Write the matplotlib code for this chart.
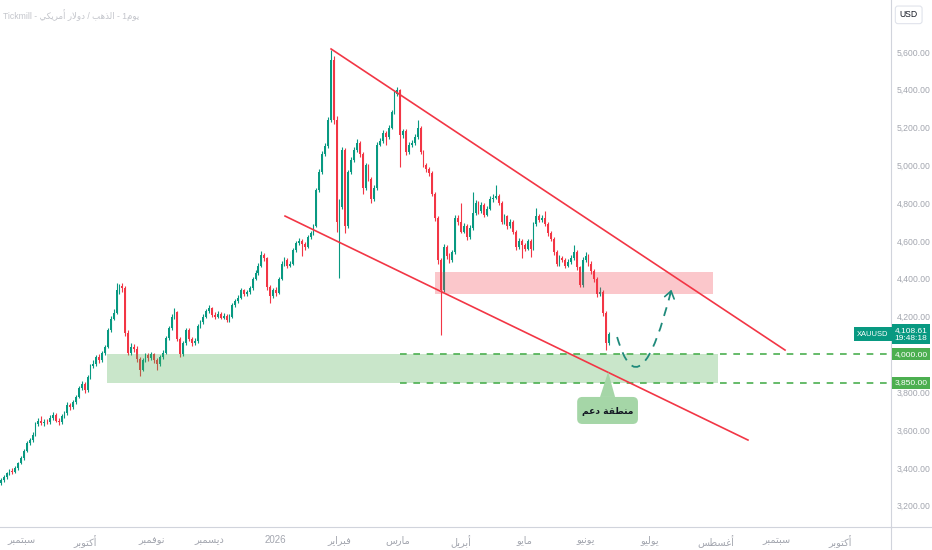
import numpy as np
import pandas as pd
import matplotlib
matplotlib.use('Agg')
import matplotlib.pyplot as plt
from matplotlib.path import Path
from matplotlib.patches import PathPatch, FancyArrowPatch, Rectangle, FancyBboxPatch, Polygon
from matplotlib.lines import Line2D

plt.rcParams['font.family'] = ['Liberation Sans', 'DejaVu Sans']

# --- daily XAUUSD candles, first bar 2025-08-21 ---
start_day = '2025-08-21'
opens = [
    3320, 3335, 3350, 3372, 3385, 3380, 3398, 3425, 3450, 3490,
    3530, 3545, 3575, 3630, 3650, 3635, 3645, 3640, 3665, 3680,
    3650, 3640, 3675, 3690, 3735, 3720, 3750, 3775, 3820, 3845,
    3810, 3880, 3940, 3950, 3985, 3970, 4005, 4040, 4130, 4190,
    4220, 4340, 4360, 4350, 4115, 4010, 4040, 4030, 3975, 3920,
    3970, 3995, 3980, 4000, 3970, 3950, 3985, 4010, 4085, 4140,
    4200, 4225, 4080, 4000, 4060, 4130, 4080, 4060, 4070, 4150,
    4170, 4200, 4230, 4245, 4210, 4200, 4215, 4195, 4205, 4180,
    4200, 4260, 4280, 4300, 4340, 4320, 4330, 4350, 4400, 4430,
    4470, 4525, 4510, 4355, 4310, 4340, 4325, 4400, 4480, 4500,
    4470, 4480, 4550, 4590, 4600, 4585, 4570, 4620, 4640, 4680,
    4870, 4965, 5060, 5100, 5240, 5560, 5240, 4700, 4780, 5080,
    4680, 4965, 5030, 5080, 5120, 5060, 4880, 5000, 4930, 4820,
    4880, 5110, 5130, 5170, 5150, 5200, 5280, 5380, 5400, 5160,
    5180, 5070, 5110, 5120, 5150, 5200, 5070, 5000, 4980, 4960,
    4850, 4720, 4500, 4340, 4570, 4520, 4500, 4540, 4720, 4700,
    4650, 4680, 4620, 4670, 4750, 4800, 4760, 4790, 4740, 4770,
    4820, 4830, 4840, 4800, 4700, 4730, 4680, 4700, 4650, 4570,
    4600, 4580, 4560, 4600, 4560, 4690, 4730, 4710, 4720, 4690,
    4640, 4610, 4540, 4480, 4510, 4500, 4470, 4490, 4510, 4540,
    4460, 4365, 4500, 4520, 4480, 4440, 4400, 4320, 4330, 4220,
    4060,
]
closes = [
    3335, 3350, 3372, 3385, 3380, 3398, 3425, 3450, 3490, 3530,
    3545, 3575, 3630, 3650, 3635, 3645, 3640, 3665, 3680, 3650,
    3640, 3675, 3690, 3735, 3720, 3750, 3775, 3820, 3845, 3810,
    3880, 3940, 3950, 3985, 3970, 4005, 4040, 4130, 4190, 4220,
    4340, 4360, 4350, 4115, 4010, 4040, 4030, 3975, 3920, 3970,
    3995, 3980, 4000, 3970, 3950, 3985, 4010, 4085, 4140, 4200,
    4225, 4080, 4000, 4060, 4130, 4080, 4060, 4070, 4150, 4170,
    4200, 4230, 4245, 4210, 4200, 4215, 4195, 4205, 4180, 4200,
    4260, 4280, 4300, 4340, 4320, 4330, 4350, 4400, 4430, 4470,
    4525, 4510, 4355, 4310, 4340, 4325, 4400, 4480, 4500, 4470,
    4480, 4550, 4590, 4600, 4585, 4570, 4620, 4640, 4680, 4870,
    4965, 5060, 5100, 5240, 5560, 5240, 4700, 4780, 5080, 4680,
    4965, 5030, 5080, 5120, 5060, 4880, 5000, 4930, 4820, 4880,
    5110, 5130, 5170, 5150, 5200, 5280, 5380, 5400, 5160, 5180,
    5070, 5110, 5120, 5150, 5200, 5070, 5000, 4980, 4960, 4850,
    4720, 4500, 4340, 4570, 4520, 4500, 4540, 4720, 4700, 4650,
    4680, 4620, 4670, 4750, 4800, 4760, 4790, 4740, 4770, 4820,
    4830, 4840, 4800, 4700, 4730, 4680, 4700, 4650, 4570, 4600,
    4580, 4560, 4600, 4560, 4690, 4730, 4710, 4720, 4690, 4640,
    4610, 4540, 4480, 4510, 4500, 4470, 4490, 4510, 4540, 4460,
    4365, 4500, 4520, 4480, 4440, 4400, 4320, 4330, 4220, 4060,
    4108.61,
]
highs = [
    3345, 3360, 3380, 3395, 3398, 3408, 3432, 3462, 3500, 3540,
    3560, 3588, 3642, 3665, 3672, 3658, 3660, 3678, 3695, 3688,
    3662, 3685, 3702, 3748, 3742, 3760, 3786, 3832, 3862, 3855,
    3890, 3950, 3968, 3998, 4002, 4018, 4052, 4142, 4205, 4238,
    4378, 4375, 4380, 4362, 4130, 4060, 4055, 4045, 3985, 3982,
    4010, 4005, 4015, 4010, 3980, 3995, 4022, 4095, 4152, 4212,
    4245, 4232, 4090, 4072, 4142, 4138, 4092, 4085, 4160, 4182,
    4212, 4242, 4260, 4252, 4222, 4228, 4225, 4218, 4212, 4212,
    4272, 4292, 4315, 4352, 4348, 4342, 4362, 4412, 4445, 4485,
    4545, 4538, 4518, 4365, 4352, 4355, 4412, 4492, 4515, 4508,
    4495, 4562, 4602, 4615, 4610, 4595, 4632, 4652, 4692, 4882,
    4980, 5075, 5118, 5255, 5610, 5580, 5260, 4820, 5095, 5090,
    4978, 5045, 5095, 5140, 5128, 5070, 5015, 5010, 4940, 4895,
    5122, 5145, 5185, 5180, 5215, 5295, 5392, 5415, 5405, 5195,
    5190, 5125, 5135, 5165, 5240, 5210, 5080, 5015, 4990, 4970,
    4860, 4730, 4510, 4585, 4580, 4535, 4555, 4735, 4740, 4800,
    4695, 4690, 4685, 4860, 4815, 4810, 4805, 4800, 4785, 4838,
    4848, 4896, 4850, 4810, 4745, 4740, 4715, 4710, 4660, 4615,
    4612, 4592, 4612, 4608, 4702, 4775, 4742, 4735, 4760, 4700,
    4652, 4620, 4552, 4525, 4522, 4510, 4505, 4525, 4580, 4550,
    4470, 4515, 4540, 4530, 4492, 4450, 4410, 4355, 4340, 4230,
    4120,
]
lows = [
    3310, 3325, 3342, 3362, 3368, 3372, 3390, 3418, 3442, 3482,
    3520, 3535, 3568, 3620, 3625, 3622, 3630, 3632, 3655, 3640,
    3625, 3632, 3665, 3682, 3705, 3712, 3740, 3768, 3810, 3795,
    3802, 3872, 3930, 3940, 3955, 3962, 3995, 4032, 4120, 4180,
    4212, 4318, 4330, 4100, 3995, 3998, 4012, 3960, 3886, 3910,
    3960, 3965, 3968, 3955, 3915, 3940, 3975, 4002, 4078, 4130,
    4190, 4070, 3985, 3992, 4050, 4070, 4045, 4048, 4062, 4140,
    4160, 4192, 4220, 4200, 4188, 4192, 4185, 4188, 4170, 4172,
    4195, 4252, 4272, 4292, 4308, 4310, 4322, 4342, 4392, 4422,
    4462, 4495, 4340, 4270, 4300, 4310, 4318, 4392, 4470, 4455,
    4460, 4472, 4542, 4580, 4520, 4555, 4562, 4610, 4632, 4672,
    4860, 4955, 5048, 5090, 5230, 5220, 4650, 4404, 4770, 4640,
    4670, 4955, 5020, 5070, 5045, 4850, 4870, 4915, 4800, 4810,
    4870, 5100, 5120, 5110, 5140, 5190, 5270, 5365, 4990, 5145,
    5055, 5060, 5095, 5110, 5140, 5060, 4990, 4965, 4945, 4840,
    4705, 4480, 4103, 4330, 4505, 4485, 4490, 4530, 4685, 4640,
    4640, 4605, 4610, 4660, 4740, 4745, 4750, 4725, 4730, 4762,
    4808, 4820, 4790, 4690, 4690, 4665, 4670, 4635, 4555, 4560,
    4510, 4545, 4550, 4515, 4552, 4680, 4698, 4700, 4680, 4628,
    4598, 4528, 4468, 4470, 4488, 4457, 4462, 4480, 4500, 4448,
    4355, 4358, 4490, 4468, 4428, 4385, 4305, 4310, 4205, 4023,
    4050,
]

month_starts = ['2025-09-01', '2025-10-01', '2025-11-01', '2025-12-01', '2026-01-01',
                '2026-02-01', '2026-03-01', '2026-04-01', '2026-05-01', '2026-06-01',
                '2026-07-01', '2026-08-01', '2026-09-01', '2026-10-01']
month_labels = ['سبتمبر', 'أكتوبر', 'نوفمبر', 'ديسمبر', '2026', 'فبراير', 'مارس',
                'أبريل', 'مايو', 'يونيو', 'يوليو', 'أغسطس', 'سبتمبر', 'أكتوبر']
price_ticks = [3200, 3400, 3600, 3800, 4000, 4200, 4400, 4600, 4800, 5000, 5200, 5400, 5600]

# drawings (bar index, price)
upper_line_x = [114.1, 270.9]
upper_line_y = [5616, 4023]
lower_line_x = [98.2, 258.1]
lower_line_y = [4732, 3547]
resistance_zone = [150, 246, 4320, 4436]   # x0, x1, low, high
support_zone = [36.7, 247.8, 3850, 4000]
support_levels = [4000, 3850]
support_levels_from = 138
path_x = [212.9, 220.8, 231.9]
path_y = [4092, 3674, 4357]
callout_box = [199.1, 220.1, 3632, 3775]    # x0, x1, low, high
callout_pointer_x = [207.0, 209.8, 212.2]
callout_pointer_y = [3775, 3907, 3775]
last_price = 4108.61

UP = '#089981'
DOWN = '#f23645'
TEAL = '#1f8a7b'
GREEN = '#4caf50'
TICK_GREY = '#a3a6af'

# --- minimal arabic shaping (presentation forms, visual order) ---
AR_LETTERS = 'ءآأؤإئابةتثجحخدذرزسشصضطظعغفقكلمنهوىي'
RIGHT_ONLY = 'آأؤإادذرزوةى'
FORMS = {}
code = 0xFE80
for ch in AR_LETTERS:
    k = 1 if ch == 'ء' else 2 if ch in RIGHT_ONLY else 4
    FORMS[ch] = [chr(code + j) for j in range(k)]
    code += k


def ar(text):
    if not any(ch in FORMS for ch in text):
        return text
    out = []
    i = 0
    while i < len(text):
        ch = text[i]
        if ch not in FORMS:
            out.append(ch)
            i += 1
            continue
        prev = text[i - 1] if i > 0 else ''
        joins_prev = prev in FORMS and len(FORMS[prev]) == 4
        nxt = text[i + 1] if i + 1 < len(text) else ''
        if ch == 'ل' and nxt == 'ا':
            out.append('\ufefc' if joins_prev else '\ufefb')
            i += 2
            continue
        joins_next = len(FORMS[ch]) == 4 and nxt in FORMS and nxt != 'ء'
        if joins_prev and joins_next:
            f = 3
        elif joins_prev:
            f = 1
        elif joins_next:
            f = 2
        else:
            f = 0
        out.append(FORMS[ch][min(f, len(FORMS[ch]) - 1)])
        i += 1
    return ''.join(reversed(out))


o = np.array(opens, dtype=float)
c = np.array(closes, dtype=float)
h = np.array(highs, dtype=float)
l = np.array(lows, dtype=float)
idx = np.arange(len(c))
dates = pd.bdate_range(start_day, periods=330)

fig = plt.figure(figsize=(9.32, 5.5), dpi=100)
ax = fig.add_axes([0, 23 / 550, 891 / 932, 527 / 550])
ax.set_xlim(-0.25, 307.5)
ax.set_ylim(3087, 5875)

colors = np.where(c >= o, UP, DOWN)
ax.vlines(idx, l, h, colors=colors, lw=0.8, zorder=2)
ax.bar(idx, np.abs(c - o), bottom=np.minimum(o, c), width=0.62, color=colors, lw=0, zorder=2)

# zones
ax.add_patch(Rectangle((support_zone[0], support_zone[2]), support_zone[1] - support_zone[0],
                       support_zone[3] - support_zone[2], fc=GREEN, alpha=0.3, lw=0, zorder=3))
ax.add_patch(Rectangle((resistance_zone[0], resistance_zone[2]), resistance_zone[1] - resistance_zone[0],
                       resistance_zone[3] - resistance_zone[2], fc=DOWN, alpha=0.28, lw=0, zorder=3))
for lvl in support_levels:
    ax.plot([support_levels_from, 310], [lvl, lvl], color=GREEN, lw=1.2, ls=(0, (4, 4)), zorder=4)

# channel
ax.plot(upper_line_x, upper_line_y, color=DOWN, lw=1.2, zorder=4)
ax.plot(lower_line_x, lower_line_y, color=DOWN, lw=1.2, zorder=4)

# projected path
curve = Path(list(zip(path_x, path_y)), [Path.MOVETO, Path.CURVE3, Path.CURVE3])
ax.add_patch(PathPatch(curve, fill=False, ec=TEAL, lw=1.3, ls=(0, (5, 4)), zorder=5))
tip = (path_x[2], path_y[2])
tail = (path_x[2] - 0.08 * (path_x[2] - path_x[1]), path_y[2] - 0.08 * (path_y[2] - path_y[1]))
ax.add_patch(FancyArrowPatch(tail, tip, arrowstyle='->,head_length=0.5,head_width=0.35',
                             mutation_scale=10, color=TEAL, lw=1.2, zorder=5))

# callout "support zone"
CALLOUT = '#a5d6a7'
bx0, bx1, by0, by1 = callout_box
ax.add_patch(FancyBboxPatch((bx0, by0), bx1 - bx0, by1 - by0, boxstyle='round,pad=0,rounding_size=1.8',
                            mutation_aspect=15, fc=CALLOUT, ec='none', zorder=6))
ax.add_patch(Polygon(list(zip(callout_pointer_x, callout_pointer_y)), closed=True, fc=CALLOUT,
                     ec='none', zorder=6))
ax.text((bx0 + bx1) / 2, (by0 + by1) / 2 - 6, ar('منطقة دعم'), ha='center', va='center',
        fontsize=6.6, fontweight='bold', color='#131722', family='DejaVu Sans', zorder=7)

# axes
tick_idx = dates.searchsorted(pd.to_datetime(month_starts))
ax.set_xticks(tick_idx)
ax.set_xticklabels([ar(m) for m in month_labels])
ax.yaxis.tick_right()
ax.set_yticks(price_ticks)
ax.set_yticklabels([f'{v:,.2f}' for v in price_ticks])
ax.tick_params(axis='both', length=0, colors=TICK_GREY)
ax.tick_params(axis='y', pad=4, labelsize=6.2)
ax.tick_params(axis='x', pad=6, labelsize=7)
for side in ['top', 'left']:
    ax.spines[side].set_visible(False)
for side in ['right', 'bottom']:
    ax.spines[side].set_color('#d1d4dc')
    ax.spines[side].set_linewidth(0.8)
fig.add_artist(Line2D([891 / 932, 891 / 932], [0, 23 / 550], color='#d1d4dc', lw=0.8))
fig.add_artist(Line2D([891 / 932, 1], [23 / 550, 23 / 550], color='#d1d4dc', lw=0.8))

# price tags on the scale
ytr = ax.get_yaxis_transform()
ax.text(1.004, last_price - 2, f'{last_price:,.2f}\n19:48:18', transform=ytr, ha='left', va='center',
        fontsize=6, color='white', linespacing=1.2, clip_on=False, zorder=7,
        bbox=dict(boxstyle='square,pad=0.28', fc=UP, ec='none'))
for lvl in support_levels:
    ax.text(1.004, lvl, f'{lvl:,.2f}', transform=ytr, ha='left', va='center', fontsize=6,
            color='white', clip_on=False, zorder=8,
            bbox=dict(boxstyle='square,pad=0.3', fc=GREEN, ec='none'))
ax.text(0.997, last_price - 2, 'XAUUSD', transform=ytr, ha='right', va='center', fontsize=5.4,
        color='white', zorder=7, bbox=dict(boxstyle='square,pad=0.45', fc=UP, ec='none'))

fig.text(0.975, 0.973, 'USD', ha='center', va='center', fontsize=6.2, color='#131722',
         bbox=dict(boxstyle='round,pad=0.5,rounding_size=0.3', fc='white', ec='#e0e3eb', lw=0.8))
fig.text(0.003, 0.972, 'Tickmill - ' + ar('الذهب / دولار أمريكي') + ' - 1' + ar('يوم'),
         ha='left', va='center', fontsize=6.2, color='#c3c5cb')

fig.savefig('out.png', dpi=100, facecolor='white')
